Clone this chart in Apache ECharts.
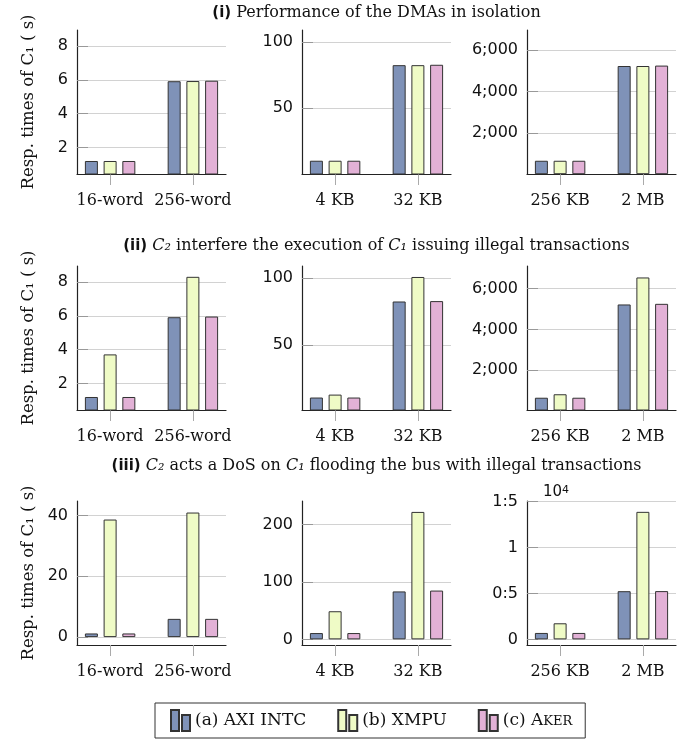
<!DOCTYPE html>
<html><head><meta charset="utf-8">
<script src="https://cdn.jsdelivr.net/npm/echarts@6/dist/echarts.min.js"></script>
<style>html,body{margin:0;padding:0;background:#fff}#c{width:691px;height:742px}</style>
</head><body><div id="c"></div>
<script>
// ---------- data ----------
const seriesNames = ['(a) AXI INTC', '(b) XMPU', '(c) Aker'];
const catsWords = ['16-word', '256-word'];
const catsSmall = ['4 KB', '32 KB'];
const catsLarge = ['256 KB', '2 MB'];

// (i) isolation  [AXI INTC, XMPU, Aker] x [cat0, cat1]
const isoWords = [[1.2, 5.92], [1.2, 5.93], [1.2, 5.95]];
const isoSmall = [[10.5, 82.5], [10.5, 82.5], [10.5, 82.8]];
const isoLarge = [[650, 5230], [650, 5230], [650, 5250]];
// (ii) illegal transactions
const intWords = [[1.2, 5.92], [3.72, 8.31], [1.2, 5.96]];
const intSmall = [[10.8, 82.5], [13.0, 100.8], [10.8, 82.8]];
const intLarge = [[660, 5220], [830, 6540], [660, 5250]];
// (iii) DoS
const dosWords = [[1.2, 6.0], [38.7, 41.0], [1.2, 6.0]];
const dosSmall = [[11, 83.5], [49, 222], [11, 85]];
const dosLarge = [[700, 5240], [1750, 13870], [700, 5250]];

// tick values / labels
const ticksWords = [2, 4, 6, 8];
const ticksSmall = [50, 100];
const ticksLarge = [2000, 4000, 6000];
const labelsLarge = ['2;000', '4;000', '6;000'];
const ticksDosWords = [0, 20, 40];
const ticksDosSmall = [0, 100, 200];
const ticksDosLarge = [0, 5000, 10000, 15000];
const labelsDosLarge = ['0', '0:5', '1', '1:5'];

// ---------- styling ----------
const SERIF = 'DejaVu Serif';
const SANS = 'DejaVu Sans';
const colors = ['#7f92b8', '#effbc6', '#e2b1d6'];
const colLeft = [77, 302, 527];
const rowTop = [30, 266, 501];
const GW = 149, GH = 144;

const panels = [
  {r:0,c:0,data:isoWords,cats:catsWords,min:0.43,max:8.95,ticks:ticksWords},
  {r:0,c:1,data:isoSmall,cats:catsSmall,min:0.5,max:109,ticks:ticksSmall},
  {r:0,c:2,data:isoLarge,cats:catsLarge,min:10,max:6970,ticks:ticksLarge,labels:labelsLarge},
  {r:1,c:0,data:intWords,cats:catsWords,min:0.43,max:8.95,ticks:ticksWords},
  {r:1,c:1,data:intSmall,cats:catsSmall,min:1.5,max:109,ticks:ticksSmall},
  {r:1,c:2,data:intLarge,cats:catsLarge,min:60,max:7100,ticks:ticksLarge,labels:labelsLarge},
  {r:2,c:0,data:dosWords,cats:catsWords,min:-2.6,max:44.8,ticks:ticksDosWords},
  {r:2,c:1,data:dosSmall,cats:catsSmall,min:-9.8,max:241,ticks:ticksDosSmall},
  {r:2,c:2,data:dosLarge,cats:catsLarge,min:-611,max:15050,ticks:ticksDosLarge,labels:labelsDosLarge}
];

const grid = [], xAxis = [], yAxis = [], series = [];
panels.forEach((p, i) => {
  grid.push({left: colLeft[p.c], top: rowTop[p.r], width: GW, height: GH});
  xAxis.push({
    type: 'value', gridIndex: i, min: -0.4, max: 1.4,
    axisLine: {show: true, onZero: false, lineStyle: {color: '#222', width: 1.2}},
    axisTick: {show: true, customValues: [0, 1], length: 11, lineStyle: {color: '#aaa'}},
    axisLabel: {customValues: [0, 1], formatter: v => p.cats[Math.round(v)], margin: 19,
      fontFamily: SERIF, fontSize: 16, color: '#111'},
    splitLine: {show: false}
  });
  const ya = {
    type: 'value', gridIndex: i, min: p.min, max: p.max,
    axisLine: {show: true, onZero: false, lineStyle: {color: '#222', width: 1.2}},
    axisTick: {show: true, inside: true, length: 11, customValues: p.ticks, lineStyle: {color: '#999'}},
    axisLabel: {customValues: p.ticks, margin: 9, fontFamily: SANS, fontSize: 16, color: '#111',
      formatter: v => p.labels ? p.labels[p.ticks.indexOf(v)] : String(v)},
    splitLine: {show: true, lineStyle: {color: '#d2d2d2'}}
  };
  if (p.c === 0) {
    ya.name = 'Resp. times of C\u2081 ( s)';
    ya.nameLocation = 'middle';
    ya.nameRotate = 90;
    ya.nameGap = 40;
    ya.nameTextStyle = {fontFamily: SERIF, fontSize: 16.5, color: '#111'};
  }
  yAxis.push(ya);
  p.data.forEach((vals, s) => {
    series.push({
      type: 'bar', name: seriesNames[s], xAxisIndex: i, yAxisIndex: i,
      data: vals.map((v, j) => [j, v]),
      barWidth: 13, barGap: '44%',
      itemStyle: {color: colors[s], borderColor: '#333', borderWidth: 1},
      emphasis: {disabled: true}
    });
  });
});

const titleRich = {
  b: {fontFamily: SANS, fontWeight: 'bold', fontSize: 15, fill: '#111'},
  t: {fontFamily: SERIF, fontSize: 16, fill: '#111'},
  i: {fontFamily: SERIF, fontStyle: 'italic', fontSize: 16, fill: '#111'}
};
function titleText(x, y, text) {
  return {type: 'text', x: x, y: y, silent: true,
    style: {text: text, rich: titleRich, align: 'center', verticalAlign: 'middle',
      fontFamily: SERIF, fontSize: 16, fill: '#111'}};
}

const option = {
  animation: false,
  grid, xAxis, yAxis, series,
  legend: {
    data: seriesNames, left: 155, top: 703, orient: 'horizontal',
    padding: [6, 13, 6, 15], itemWidth: 19, itemHeight: 21, itemGap: 31,
    borderColor: '#333', borderWidth: 1,
    icon: 'path://M0,0h8v21h-8zM11,5h8v16h-8z',
    selectedMode: false,
    formatter: n => n === '(c) Aker' ? '(c) A{sc|KER}' : n,
    textStyle: {fontFamily: SERIF, fontSize: 17, color: '#111',
      rich: {sc: {fontFamily: SERIF, fontSize: 13, color: '#111', verticalAlign: 'bottom', padding: [0, 0, 1, 0]}}}
  },
  graphic: [
    titleText(376.5, 13, '{b|(i)}{t| Performance of the DMAs in isolation}'),
    titleText(376.5, 246, '{b|(ii)}{t| }{i|C\u2082}{t| interfere the execution of }{i|C\u2081}{t| issuing illegal transactions}'),
    titleText(376.5, 466, '{b|(iii)}{t| }{i|C\u2082}{t| acts a DoS on }{i|C\u2081}{t| flooding the bus with illegal transactions}'),
    {type: 'text', x: 543, y: 492, silent: true,
      style: {text: '{n|10}{s|4}', align: 'left', verticalAlign: 'middle',
        rich: {n: {fontFamily: SANS, fontSize: 15, fill: '#111', verticalAlign: 'bottom'},
               s: {fontFamily: SANS, fontSize: 11, fill: '#111', verticalAlign: 'top'}}}}
  ]
};
const chart = echarts.init(document.getElementById('c'), null, {renderer: 'canvas'});
chart.setOption(option);
</script></body></html>
